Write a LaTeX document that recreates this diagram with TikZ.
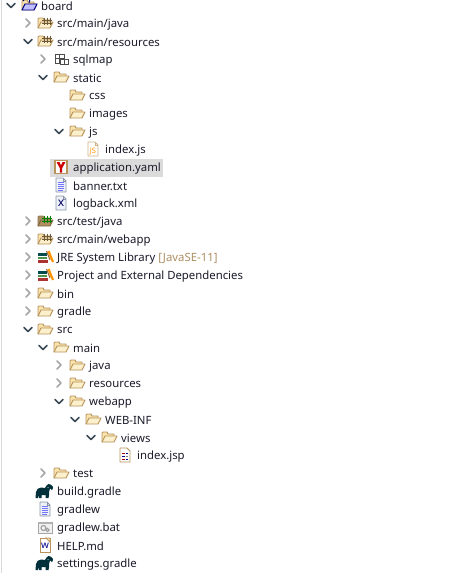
\documentclass[tikz,border=0pt]{standalone}
\usepackage{fontspec}
\setmainfont{Noto Sans}
\definecolor{fl}{HTML}{B8935A}
\definecolor{fbk}{HTML}{F9E2AC}
\definecolor{ffr}{HTML}{FCEFCB}
\definecolor{chv}{HTML}{3C4A55}
\definecolor{chg}{HTML}{A6A6A6}
\definecolor{ele}{HTML}{02303A}
\definecolor{txtc}{HTML}{1A1A2A}
\definecolor{pge}{HTML}{8A94A8}
\definecolor{pgf}{HTML}{EEF2F8}
\tikzset{
  lbl/.style={anchor=west,inner sep=0pt,font=\fontsize{11.35}{14}\selectfont,text=txtc,yshift=-1.2pt},
  chevron/.style={line width=1.5pt,line cap=round,line join=round},
  pics/folder/.style={code={
    \draw[fl,fill=fbk,line width=.9pt,line join=round] (-7,5)--(-7,-4)--(-6,-5)--(-2,-5)--(-1,-3)--(5,-3)--(5,0);
    \draw[fl,fill=ffr,line width=.9pt,line join=round] (-7,5)--(-4,-1)--(8,-1)--(5,5)--cycle;
  }},
  pics/pkg/.style={code={
    \pic {folder};
    \draw[#1,line width=.8pt] (-1,-5.5)--(-1,1.5) (2,-5.5)--(2,1.5) (5,-5.5)--(5,1.5) (-3,-3)--(7,-3) (-3,0)--(7,0);
  }},
  pics/testpkg/.style={code={
    \draw[fl!80!black,fill=fl!75!gray,line width=.9pt,line join=round] (-7,5)--(-7,-4)--(-6,-5)--(-2,-5)--(-1,-3)--(5,-3)--(5,0);
    \draw[fl!70!black,fill=fl!85!gray,line width=.9pt,line join=round] (-7,5)--(-4,-1)--(8,-1)--(5,5)--cycle;
    \draw[green!50!black,line width=.9pt] (-1,-5.5)--(-1,1.5) (2,-5.5)--(2,1.5) (5,-5.5)--(5,1.5) (-3,-3)--(7,-3) (-3,0)--(7,0);
  }},
  pics/sqlmap/.style={code={
    \draw[gray!60!black,line width=.9pt] (-6,-5)rectangle(3,4) (-6,-1)--(3,-1) (-2,-5)--(-2,4);
    \draw[gray!60!black,fill=white,line width=.9pt] (-1,0)--(7,0)--(7,5)--(-1,5)--cycle;
    \draw[gray!60!black,line width=.9pt] (3,0)--(3,5);
  }},
  pics/page/.style={code={
    \draw[pge,fill=pgf,line width=.9pt,line join=round] (-5,-7)--(2,-7)--(5,-4)--(5,7)--(-5,7)--cycle;
    \draw[pge,line width=.7pt] (2,-7)--(2,-4)--(5,-4);
  }},
  pics/txtpage/.style={code={
    \pic {page};
    \draw[#1,line width=.9pt] (-3,-3)--(3,-3) (-3,-1)--(3,-1) (-3,1)--(3,1) (-3,3)--(3,3) (-3,5)--(2,5);
  }},
  pics/jspage/.style={code={
    \draw[fl!70,fill=white,line width=.9pt,line join=round] (-5,-7)--(2,-7)--(5,-4)--(5,7)--(-5,7)--cycle;
    \draw[fl!70,line width=.7pt] (2,-7)--(2,-4)--(5,-4);
    \node[inner sep=0pt,font=\fontsize{7.5}{7.5}\bfseries\selectfont,text=orange!85!yellow] (jslbl) at (0,2.5) {JS};
  }},
  pics/xmlpage/.style={code={
    \pic {page};
    \node[inner sep=0pt,font=\fontsize{12}{12}\bfseries\selectfont,text=blue!40!black] (xlbl) at (0,.5) {x};
  }},
  pics/wpage/.style={code={
    \draw[fl,fill=white,line width=.9pt] (-5,-7)--(5,-7)--(5,7)--(-5,7)--cycle;
    \draw[fl,fill=fbk,line width=.7pt] (1,-7)--(5,-3)--(5,-7)--cycle;
    \node[inner sep=0pt,font=\fontsize{10}{10}\bfseries\selectfont,text=blue!55!black] (wlbl) at (0,1) {w};
  }},
  pics/jsp/.style={code={
    \draw[fl,fill=white,line width=.9pt,line join=round] (-5,-7)--(2,-7)--(5,-4)--(5,7)--(-5,7)--cycle;
    \draw[red!70!black,line width=1pt] (-3,-2)--(0,-2) (-3,4)--(0,4);
    \draw[blue!60!black,line width=1pt] (-3,1)--(0,1) (1,-2)--(3,-2) (1,4)--(3,4);
    \draw[gray,line width=1pt] (1,1)--(3,1);
  }},
  pics/yaml/.style={code={
    \draw[fl,fill=white,line width=1.1pt] (-6,-6.5)rectangle(6,6.5);
    \fill[red!80!black] (-4.5,-5)--(-1.5,-5)--(0,-1.5)--(1.5,-5)--(4.5,-5)--(1.2,1)--(1.2,5.5)--(-1.2,5.5)--(-1.2,1)--cycle;
  }},
  pics/lib/.style={code={
    \fill[teal!60!black] (-7,-4)rectangle(1.5,-1);
    \fill[green!40!black!70] (-7,-.5)rectangle(1.5,2);
    \fill[red!60!black!80] (-7,2.5)rectangle(3,5.5);
    \draw[orange!85!yellow,line width=2.2pt] (3.5,-6)--(8,5);
    \draw[brown!80!black,line width=1pt] (1.5,-6)--(5,3);
  }},
  pics/elephant/.style={code={
    \fill[ele] (-9.5,7)--(-9,1) to[out=80,in=180] (-4,-3.5) to[out=0,in=200] (0,-3)
      to[out=40,in=180] (3.5,-7) to[out=0,in=120] (8,-4) to[out=-60,in=70] (7,-1)
      --(5,-2.5)--(4,1) to[out=-70,in=90] (3.5,7)--(.5,7)--(.5,4)--(-3.5,4)--(-3.5,7)--(-6,7)--(-6,4)--(-7,7)--cycle;
    \fill[white] (3,-3.5) circle(.5);
  }},
  pics/bat/.style={code={
    \draw[gray!70,fill=gray!12,line width=1pt] (-7,-5)rectangle(7,6);
    \fill[gray!60] (-7,-5)rectangle(7,-3);
    \draw[gray!75,line width=1.1pt] (-1.5,1) circle(2.5) (2.5,3) circle(1.7);
  }},
  pics/proj/.style={code={
    \pic {folder};
    \draw[blue!55!black,fill=blue!25!white,line width=.9pt,line join=round] (-7,5)--(-4,-1)--(8,-1)--(5,5)--cycle;
    \draw[blue!45!black,line width=1pt] (-6,-4)--(-3,-7) (0,-7) to[out=-60,in=60] (0,-2);
  }},
}
\newcommand{\chvd}[2]{\draw[chevron,chv] (#1-4,#2-1.5)--(#1,#2+2.5)--(#1+4,#2-1.5);}
\newcommand{\chvr}[2]{\draw[chevron,chg] (#1-2,#2-4)--(#1+2,#2)--(#1-2,#2+4);}
% \rowitem{name}{text x}{y}{pic}{text}
\newcommand{\rowitem}[5]{%
  \pic at (#2-12,#3) {#4};
  \node[lbl] (#1) at (#2,#3) {#5};}
\begin{document}
\begin{tikzpicture}[x=1pt,y=-1pt]
\useasboundingbox (0,0) rectangle (475,573);
\fill[white] (0,0) rectangle (475,573);
\draw[gray!30,line width=1pt] (1,0)--(1,573);
\fill[gray!28] (50,159) rectangle (163,177);
\chvd{11}{5}\rowitem{board}{41}{5}{proj}{board}
\chvr{28}{23}\rowitem{a1}{57}{23}{pkg=fl!60!black}{src/main/java}
\chvd{28}{41}\rowitem{a2}{57}{41}{pkg=fl!60!black}{src/main/resources}
\chvr{43}{59}\rowitem{a3}{73}{59}{sqlmap}{sqlmap}
\chvd{43}{77}\rowitem{a4}{73}{77}{folder}{static}
\rowitem{a5}{89}{95}{folder}{css}
\rowitem{a6}{89}{113}{folder}{images}
\chvd{59}{131}\rowitem{a7}{89}{131}{folder}{js}
\rowitem{a8}{105}{149}{jspage}{index.js}
\rowitem{a9}{73}{167}{yaml}{application.yaml}
\rowitem{a10}{73}{185}{txtpage=blue!55!white}{banner.txt}
\rowitem{a11}{73}{203}{xmlpage}{logback.xml}
\chvr{28}{221}\rowitem{b1}{57}{221}{testpkg}{src/test/java}
\chvr{28}{239}\rowitem{b2}{57}{239}{pkg=fl!60!black}{src/main/webapp}
\chvr{28}{257}\rowitem{b3}{57}{257}{lib}{JRE System Library \textcolor{fl!80!gray}{[JavaSE-11]}}
\chvr{28}{275}\rowitem{b4}{57}{275}{lib}{Project and External Dependencies}
\chvr{28}{293}\rowitem{b5}{57}{293}{folder}{bin}
\chvr{28}{311}\rowitem{b6}{57}{311}{folder}{gradle}
\chvd{28}{329}\rowitem{b7}{57}{329}{folder}{src}
\chvd{43}{347}\rowitem{b8}{73}{347}{folder}{main}
\chvr{59}{365}\rowitem{b9}{89}{365}{folder}{java}
\chvr{59}{383}\rowitem{b10}{89}{383}{folder}{resources}
\chvd{59}{401}\rowitem{b11}{89}{401}{folder}{webapp}
\chvd{75}{419}\rowitem{b12}{105}{419}{folder}{WEB-INF}
\chvd{91}{437}\rowitem{b13}{121}{437}{folder}{views}
\rowitem{b14}{137}{455}{jsp}{index.jsp}
\chvr{43}{473}\rowitem{b15}{73}{473}{folder}{test}
\rowitem{c1}{57}{491}{elephant}{build.gradle}
\rowitem{c2}{57}{509}{txtpage=blue!55!white}{gradlew}
\rowitem{c3}{57}{527}{bat}{gradlew.bat}
\rowitem{c4}{57}{545}{wpage}{HELP.md}
\rowitem{c5}{57}{563}{elephant}{settings.gradle}
\end{tikzpicture}
\end{document}
